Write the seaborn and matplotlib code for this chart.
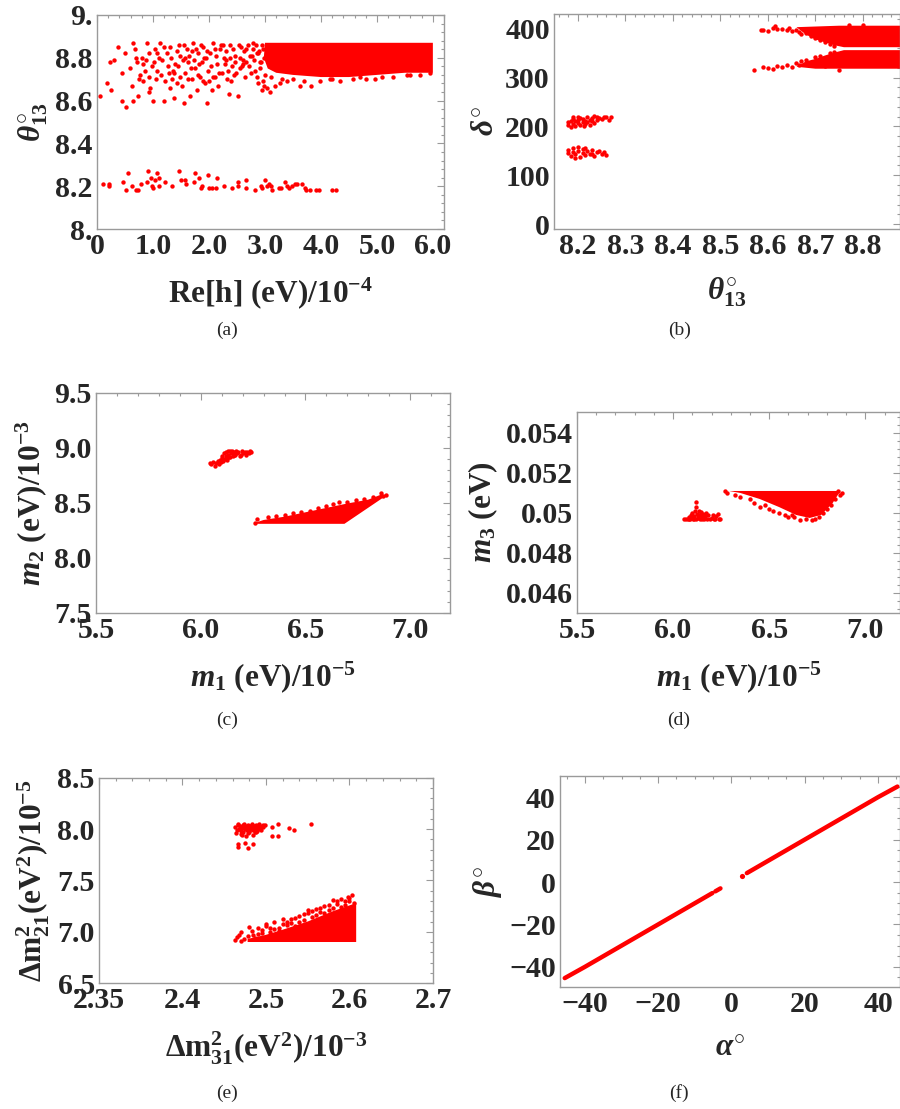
import matplotlib
matplotlib.use("Agg")
import matplotlib.pyplot as plt
from matplotlib.ticker import AutoMinorLocator, FixedLocator, FixedFormatter
import seaborn as sns

# ---------------- data ----------------
# (a) Re[h] vs theta13 : sparse points, low band, dense block outline
a_x = [0.06, 0.18, 0.24, 0.31, 0.37, 0.25, 0.45, 0.45, 0.52, 0.50, 0.59, 0.62, 0.64, 0.65, 0.68,
       0.71, 0.74, 0.77, 0.82, 0.83, 0.89, 0.92, 0.92, 0.98, 1.00, 1.04, 1.07, 1.13, 1.16, 1.19,
       1.22, 1.25, 1.28, 1.31, 1.34, 1.37, 1.40, 1.43, 1.46, 1.49, 1.52, 1.55, 1.57, 1.60, 1.63,
       1.66, 1.69, 1.72, 1.75, 1.78, 1.81, 1.84, 1.87, 1.90, 1.93, 1.96, 1.99, 2.02, 2.05, 2.08,
       2.11, 2.14, 2.17, 2.20, 2.23, 2.26, 2.32, 2.35, 2.38, 2.41, 2.44, 2.47, 2.51, 2.55, 2.57,
       2.61, 2.65, 2.67, 2.72, 2.76, 2.79, 2.82, 2.88, 2.91, 2.94, 2.97, 3.00,
       1.10, 1.45, 1.70, 2.30, 0.80, 1.05, 1.58, 1.95, 2.60, 2.85, 0.95, 1.35, 2.00, 2.25,
       0.70, 0.75, 0.85, 0.87, 0.93, 1.02, 1.08, 1.15, 1.20, 1.27, 1.30, 1.33, 1.38, 1.42, 1.48,
       1.53, 1.56, 1.62, 1.65, 1.68, 1.73, 1.77, 1.80, 1.83, 1.86, 1.89, 1.92, 1.97, 2.03, 2.07,
       2.10, 2.13, 2.18, 2.22, 2.28, 2.31, 2.34, 2.37, 2.40, 2.43, 2.46, 2.49, 2.53, 2.56, 2.59,
       2.63, 2.66, 2.70, 2.73, 2.75, 2.78, 2.81, 2.84, 2.86, 2.89, 2.92, 2.95, 2.98, 2.96, 2.99,
       2.93, 2.87,
       3.03, 3.09, 3.18, 3.27, 3.39, 3.51, 3.62, 3.83, 3.98, 4.16, 4.34, 4.57, 4.81, 4.96,
       5.29, 5.53, 5.77, 3.10, 3.30, 3.70, 4.20, 4.70, 5.10, 5.60, 5.95]
a_y = [8.62, 8.68, 8.78, 8.79, 8.85, 8.65, 8.60, 8.73, 8.57, 8.82, 8.75, 8.67, 8.60, 8.87, 8.84,
       8.78, 8.62, 8.72, 8.77, 8.69, 8.87, 8.82, 8.64, 8.76, 8.60, 8.84, 8.74, 8.87, 8.79, 8.60,
       8.69, 8.82, 8.73, 8.85, 8.70, 8.61, 8.77, 8.68, 8.86, 8.81, 8.67, 8.59, 8.73, 8.84, 8.78,
       8.62, 8.70, 8.87, 8.75, 8.65, 8.82, 8.71, 8.78, 8.85, 8.68, 8.59, 8.74, 8.82, 8.65, 8.87,
       8.71, 8.77, 8.67, 8.84, 8.73, 8.80, 8.70, 8.63, 8.86, 8.76, 8.72, 8.81, 8.62, 8.75, 8.85,
       8.79, 8.71, 8.84, 8.76, 8.81, 8.87, 8.74, 8.68, 8.78, 8.65, 8.84, 8.72,
       8.80, 8.76, 8.83, 8.79, 8.80, 8.70, 8.80, 8.80, 8.77, 8.82, 8.66, 8.74, 8.69, 8.86,
       8.80, 8.70, 8.74, 8.79, 8.71, 8.78, 8.82, 8.72, 8.85, 8.76, 8.66, 8.80, 8.73, 8.83, 8.71,
       8.79, 8.86, 8.70, 8.81, 8.75, 8.79, 8.84, 8.72, 8.77, 8.86, 8.69, 8.80, 8.83, 8.76, 8.71,
       8.84, 8.81, 8.73, 8.86, 8.77, 8.83, 8.74, 8.80, 8.69, 8.84, 8.78, 8.73, 8.86, 8.80, 8.76,
       8.83, 8.78, 8.86, 8.81, 8.73, 8.84, 8.79, 8.86, 8.71, 8.83, 8.75, 8.86, 8.80, 8.69, 8.67,
       8.78, 8.82,
       8.66, 8.64, 8.67, 8.68, 8.69, 8.70, 8.67, 8.67, 8.69, 8.70, 8.69, 8.70, 8.70, 8.70,
       8.71, 8.72, 8.72, 8.71, 8.70, 8.69, 8.70, 8.71, 8.71, 8.72, 8.73]
a_low_x = [0.10, 0.21, 0.21, 0.47, 0.52, 0.56, 0.63, 0.70, 0.74, 0.79, 0.89, 0.91, 0.96, 0.98,
           1.00, 1.04, 1.07, 1.10, 1.11, 1.21, 1.34, 1.46, 1.50, 1.57, 1.59, 1.75, 1.73, 1.82,
           1.86, 1.88, 1.98, 2.00, 2.06, 2.12, 2.15, 2.27, 2.42, 2.51, 2.52, 2.66, 2.67, 2.82,
           2.93, 3.00, 2.95, 3.04, 3.07, 3.11, 3.12, 3.26, 3.29, 3.36, 3.40, 3.43, 3.49, 3.53,
           3.57, 3.67, 3.72, 3.74, 3.80, 3.91, 3.96, 4.20, 4.27]
a_low_y = [8.21, 8.21, 8.20, 8.22, 8.18, 8.26, 8.20, 8.18, 8.18, 8.21, 8.22, 8.27, 8.24, 8.20,
           8.19, 8.23, 8.26, 8.20, 8.24, 8.22, 8.20, 8.27, 8.23, 8.23, 8.21, 8.26, 8.22, 8.24,
           8.19, 8.20, 8.25, 8.19, 8.19, 8.19, 8.24, 8.20, 8.19, 8.22, 8.20, 8.23, 8.19, 8.18,
           8.20, 8.23, 8.19, 8.20, 8.21, 8.20, 8.18, 8.19, 8.19, 8.22, 8.20, 8.19, 8.20, 8.21,
           8.21, 8.21, 8.19, 8.18, 8.18, 8.18, 8.18, 8.18, 8.18]
a_core_x = [3.00, 6.00, 6.00, 5.50, 5.00, 4.50, 4.00, 3.50, 3.20, 3.05, 2.98]
a_core_y = [8.87, 8.87, 8.73, 8.73, 8.72, 8.71, 8.71, 8.72, 8.73, 8.75, 8.80]

# (b) theta13 vs delta
b_x = [8.18, 8.18, 8.185, 8.19, 8.19, 8.195, 8.195, 8.20, 8.20, 8.205, 8.205, 8.21, 8.21, 8.215,
       8.215, 8.22, 8.22, 8.225, 8.225, 8.23, 8.23, 8.235, 8.24, 8.24, 8.245, 8.25, 8.255, 8.26,
       8.265, 8.27, 8.235, 8.20, 8.19, 8.212, 8.185,
       8.18, 8.18, 8.185, 8.19, 8.19, 8.195, 8.20, 8.20, 8.205, 8.21, 8.21, 8.215, 8.22, 8.225,
       8.23, 8.235, 8.24, 8.245, 8.25, 8.255, 8.26, 8.195, 8.215, 8.23,
       8.585, 8.59, 8.60, 8.61, 8.615, 8.62, 8.63, 8.64, 8.645, 8.65, 8.66, 8.665, 8.67, 8.675,
       8.68, 8.69, 8.70, 8.71, 8.72, 8.73, 8.74, 8.80, 8.77,
       8.57, 8.59, 8.60, 8.61, 8.62, 8.63, 8.64, 8.65, 8.66, 8.665, 8.67, 8.68, 8.69, 8.70,
       8.71, 8.72, 8.73, 8.74, 8.75]
b_y = [202, 208, 212, 205, 215, 200, 210, 206, 213, 218, 203, 209, 215, 205,
       212, 219, 208, 214, 203, 210, 217, 206, 220, 213, 218, 216, 220, 219,
       214, 220, 221, 220, 219, 201, 198,
       145, 152, 140, 148, 155, 143, 150, 157, 138, 146, 153, 141, 149, 144,
       152, 139, 147, 150, 144, 147, 141, 136, 156, 143,
       397, 398, 396, 402, 405, 399, 400, 397, 401, 395, 398, 393, 388, 399,
       392, 385, 381, 376, 372, 368, 365, 408, 407,
       316, 322, 319, 317, 324, 322, 326, 322, 330, 325, 333, 336, 329, 341,
       345, 323, 350, 353, 316]
b_top_x = [8.66, 8.75, 8.878, 8.878, 8.76, 8.74, 8.72, 8.70, 8.68]
b_top_y = [403, 406, 406, 362, 362, 366, 372, 378, 388]
b_bot_x = [8.68, 8.70, 8.72, 8.74, 8.76, 8.878, 8.878, 8.70, 8.66]
b_bot_y = [333, 338, 345, 351, 356, 356, 318, 318, 322]

# (c) m1 vs m2
c_x = [6.045, 6.05, 6.06, 6.07, 6.075, 6.08, 6.085, 6.09, 6.095, 6.10, 6.10, 6.105, 6.11, 6.115,
       6.12, 6.12, 6.125, 6.13, 6.13, 6.135, 6.14, 6.145, 6.15, 6.155, 6.16, 6.165, 6.17, 6.175,
       6.18, 6.19, 6.195, 6.20, 6.21, 6.215, 6.22, 6.23, 6.24, 6.235, 6.14, 6.16, 6.185, 6.125,
       6.26, 6.27, 6.32, 6.36, 6.40, 6.44, 6.48, 6.52, 6.56, 6.60, 6.63, 6.66, 6.70, 6.74, 6.78,
       6.82, 6.86, 6.87, 6.885]
c_y = [8.86, 8.85, 8.87, 8.84, 8.86, 8.88, 8.85, 8.89, 8.87, 8.91, 8.93, 8.88, 8.95, 8.90,
       8.93, 8.96, 8.91, 8.97, 8.94, 8.92, 8.975, 8.95, 8.97, 8.93, 8.96, 8.94, 8.97, 8.95,
       8.96, 8.94, 8.97, 8.95, 8.96, 8.94, 8.965, 8.95, 8.96, 8.97, 8.92, 8.935, 8.925, 8.89,
       8.32, 8.35, 8.37, 8.385, 8.39, 8.41, 8.42, 8.43, 8.45, 8.47, 8.49, 8.51, 8.51, 8.53, 8.54,
       8.55, 8.59, 8.56, 8.57]
c_core_x = [6.27, 6.686, 6.884, 6.86, 6.80, 6.70, 6.60, 6.50, 6.40, 6.30, 6.26]
c_core_y = [8.31, 8.31, 8.565, 8.575, 8.53, 8.495, 8.455, 8.415, 8.375, 8.345, 8.32]

# (d) m1 vs m3
d_x = [6.055, 6.065, 6.075, 6.08, 6.085, 6.09, 6.095, 6.10, 6.10, 6.105, 6.11, 6.115, 6.12, 6.12,
       6.12, 6.125, 6.13, 6.135, 6.14, 6.14, 6.145, 6.15, 6.155, 6.16, 6.165, 6.17, 6.175, 6.18,
       6.19, 6.20, 6.205, 6.22, 6.225, 6.24, 6.245, 6.235, 6.21, 6.13, 6.11, 6.15,
       6.27, 6.28, 6.32, 6.35, 6.40, 6.42, 6.45, 6.48, 6.52, 6.55, 6.58, 6.60, 6.63, 6.66, 6.69,
       6.72, 6.74, 6.76, 6.78, 6.80, 6.82, 6.84, 6.87, 6.88, 6.86, 6.50, 6.62]
d_y = [0.04968, 0.04968, 0.04972, 0.04968, 0.04980, 0.04968, 0.04990, 0.04975, 0.05000, 0.04968,
       0.04985, 0.05010, 0.04968, 0.05055, 0.05030, 0.04995, 0.04975, 0.05010, 0.04968, 0.04990,
       0.05003, 0.04978, 0.04995, 0.04968, 0.04985, 0.05000, 0.04970, 0.04990, 0.04968, 0.04975,
       0.04990, 0.04968, 0.04985, 0.04972, 0.04968, 0.04995, 0.04968, 0.04990, 0.04968, 0.04968,
       0.0511, 0.0510, 0.0509, 0.0508, 0.0507, 0.0505, 0.0503, 0.0504, 0.0501, 0.0500, 0.0499,
       0.0498, 0.0498, 0.04965, 0.0497, 0.04965, 0.0497, 0.0498, 0.0500, 0.0502, 0.0504, 0.0507,
       0.0509, 0.0510, 0.0511, 0.0502, 0.0499]
d_core_x = [6.29, 6.87, 6.83, 6.77, 6.71, 6.64, 6.55, 6.45, 6.35]
d_core_y = [0.0511, 0.0511, 0.0505, 0.0499, 0.04975, 0.0499, 0.0503, 0.0507, 0.0510]

# (e) dm31 vs dm21
e_x = [2.463, 2.465, 2.466, 2.468, 2.469, 2.470, 2.471, 2.472, 2.473, 2.474, 2.475, 2.476, 2.477,
       2.478, 2.479, 2.480, 2.481, 2.482, 2.483, 2.484, 2.485, 2.486, 2.487, 2.488, 2.489, 2.490,
       2.491, 2.492, 2.493, 2.494, 2.495, 2.497, 2.499, 2.464, 2.467, 2.470, 2.474, 2.478, 2.483,
       2.487, 2.492, 2.496,
       2.507, 2.514, 2.507, 2.514, 2.528, 2.533, 2.554, 2.467, 2.466, 2.475, 2.479, 2.485, 2.471,
       2.476, 2.484, 2.488, 2.480,
       2.463, 2.465, 2.468, 2.470, 2.474, 2.478, 2.480, 2.483, 2.487, 2.490, 2.495, 2.500, 2.505,
       2.510, 2.515, 2.520, 2.525, 2.530, 2.535, 2.540, 2.545, 2.550, 2.555, 2.560, 2.565, 2.570,
       2.575, 2.580, 2.585, 2.590, 2.595, 2.600, 2.603, 2.605,
       2.470, 2.490, 2.500, 2.510, 2.520, 2.530, 2.540, 2.545, 2.550, 2.560, 2.565, 2.570, 2.575,
       2.580, 2.585, 2.590, 2.595, 2.600, 2.598, 2.555, 2.535, 2.525, 2.515, 2.505, 2.495, 2.485]
e_y = [8.02, 7.99, 8.04, 8.00, 8.03, 7.98, 8.01, 8.04, 7.97, 8.02, 8.00, 8.03, 7.99, 8.04, 8.01,
       7.98, 8.03, 8.00, 8.04, 8.02, 7.99, 8.03, 8.01, 8.04, 7.98, 8.02, 8.00, 8.03, 8.01, 7.99,
       8.03, 8.02, 8.04, 7.96, 8.05, 7.95, 8.05, 7.96, 8.05, 7.97, 8.05, 8.04,
       8.02, 8.05, 7.93, 7.93, 8.01, 7.99, 8.05, 7.86, 7.83, 7.87, 7.82, 7.86, 7.94, 7.93, 7.94,
       7.97, 7.97,
       6.92, 6.95, 6.97, 6.91, 6.93, 6.96, 7.05, 7.01, 6.94, 6.98, 7.02, 7.06, 7.00, 7.10, 7.04,
       7.12, 7.07, 7.09, 7.13, 7.15, 7.11, 7.18, 7.14, 7.22, 7.19, 7.25, 7.21, 7.31, 7.27, 7.24,
       7.30, 7.33, 7.36, 7.28,
       7.00, 7.04, 7.08, 7.03, 7.08, 7.12, 7.10, 7.17, 7.21, 7.16, 7.23, 7.18, 7.26, 7.23, 7.30,
       7.32, 7.26, 7.30, 7.34, 7.20, 7.06, 7.10, 7.01, 7.04, 6.99, 6.97]
e_core_x = [2.478, 2.608, 2.608, 2.58, 2.55, 2.52, 2.50, 2.478]
e_core_y = [6.90, 6.90, 7.28, 7.20, 7.10, 7.02, 6.97, 6.93]

# (f) alpha vs beta
f_neg_alpha = [-45.5, -40, -30, -20, -10, -5.2]
f_neg_beta = [-45.3, -40, -30, -20, -10, -5.2]
f_mid_alpha = [-4.4, -3.0]
f_mid_beta = [-4.4, -3.0]
f_dot_alpha = [2.8]
f_dot_beta = [2.8]
f_pos_alpha = [4.2, 10, 20, 30, 40, 45.3]
f_pos_beta = [4.2, 10, 20, 30, 40, 45.0]

# ---------------- style ----------------
sns.set_theme(style="white")
plt.rcParams["font.family"] = ["Liberation Serif", "DejaVu Serif"]
plt.rcParams["font.weight"] = "bold"
plt.rcParams["mathtext.fontset"] = "custom"
plt.rcParams["mathtext.rm"] = "Liberation Serif:bold"
plt.rcParams["mathtext.bf"] = "Liberation Serif:bold"
plt.rcParams["mathtext.it"] = "Liberation Serif:bold:italic"
plt.rcParams["mathtext.default"] = "it"

RED = "#ff0000"
GRAY = "#9a9a9a"
TICK_FS = 21.5
LAB_FS = 22.5

fig = plt.figure(figsize=(9, 11.09), dpi=100)
ax_a = fig.add_axes([0.1078, 0.7935, 0.3856, 0.1930])
ax_b = fig.add_axes([0.6156, 0.7935, 0.3844, 0.1939])
ax_c = fig.add_axes([0.1067, 0.4473, 0.3933, 0.1984])
ax_d = fig.add_axes([0.6411, 0.4473, 0.3589, 0.1812])
ax_e = fig.add_axes([0.1100, 0.1136, 0.3711, 0.1849])
ax_f = fig.add_axes([0.6222, 0.1100, 0.3778, 0.1903])


def style(ax, xt, xl, yt, yl, xlim, ylim, xlabel, ylabel, xminor=5, yminor=5):
    ax.set_xlim(*xlim)
    ax.set_ylim(*ylim)
    ax.xaxis.set_major_locator(FixedLocator(xt))
    ax.xaxis.set_major_formatter(FixedFormatter(xl))
    ax.yaxis.set_major_locator(FixedLocator(yt))
    ax.yaxis.set_major_formatter(FixedFormatter(yl))
    ax.xaxis.set_minor_locator(AutoMinorLocator(xminor))
    ax.yaxis.set_minor_locator(AutoMinorLocator(yminor))
    for s in ax.spines.values():
        s.set_color(GRAY)
        s.set_linewidth(1.0)
    ax.tick_params(which="both", direction="in", color=GRAY, top=True, right=True,
                   width=0.8, labelsize=TICK_FS, pad=3)
    ax.tick_params(which="major", length=5)
    ax.tick_params(which="minor", length=2.5)
    for lab in ax.get_xticklabels() + ax.get_yticklabels():
        lab.set_fontweight("bold")
    ax.set_xlabel(xlabel, fontsize=LAB_FS, fontweight="bold", labelpad=11)
    ax.set_ylabel(ylabel, fontsize=LAB_FS, fontweight="bold", labelpad=4)


def dots(ax, x, y, s=10):
    sns.scatterplot(x=x, y=y, ax=ax, color=RED, s=s, linewidth=0, legend=False)


# (a)
ax_a.fill(a_core_x, a_core_y, color=RED, lw=0)
dots(ax_a, a_x, a_y)
dots(ax_a, a_low_x, a_low_y)
style(ax_a, [0, 1, 2, 3, 4, 5, 6], ["0", "1.0", "2.0", "3.0", "4.0", "5.0", "6.0"],
      [8.0, 8.2, 8.4, 8.6, 8.8, 9.0], ["8.", "8.2", "8.4", "8.6", "8.8", "9."],
      (0, 6.2), (8.0, 9.0), r"Re[h] (eV)/$\mathrm{10^{-4}}$", r"$\theta^{\circ}_{\mathrm{13}}$")

# (b)
ax_b.fill(b_top_x, b_top_y, color=RED, lw=0)
ax_b.fill(b_bot_x, b_bot_y, color=RED, lw=0)
dots(ax_b, b_x, b_y)
style(ax_b, [8.2, 8.3, 8.4, 8.5, 8.6, 8.7, 8.8], ["8.2", "8.3", "8.4", "8.5", "8.6", "8.7", "8.8"],
      [0, 100, 200, 300, 400], ["0", "100", "200", "300", "400"],
      (8.15, 8.878), (-10, 430), r"$\theta^{\circ}_{\mathrm{13}}$", r"$\delta^{\circ}$")

# (c)
ax_c.fill(c_core_x, c_core_y, color=RED, lw=0)
dots(ax_c, c_x, c_y)
style(ax_c, [5.5, 6.0, 6.5, 7.0], ["5.5", "6.0", "6.5", "7.0"],
      [7.5, 8.0, 8.5, 9.0, 9.5], ["7.5", "8.0", "8.5", "9.0", "9.5"],
      (5.5, 7.19), (7.5, 9.5), r"$m_{\mathrm{1}}$ (eV)/$\mathrm{10^{-5}}$",
      r"$m_{\mathrm{2}}$ (eV)/$\mathrm{10^{-3}}$")

# (d)
ax_d.fill(d_core_x, d_core_y, color=RED, lw=0)
dots(ax_d, d_x, d_y)
style(ax_d, [5.5, 6.0, 6.5, 7.0], ["5.5", "6.0", "6.5", "7.0"],
      [0.046, 0.048, 0.050, 0.052, 0.054], ["0.046", "0.048", "0.05", "0.052", "0.054"],
      (5.5, 7.18), (0.045, 0.05505), r"$m_{\mathrm{1}}$ (eV)/$\mathrm{10^{-5}}$",
      r"$m_{\mathrm{3}}$ (eV)")

# (e)
ax_e.fill(e_core_x, e_core_y, color=RED, lw=0)
dots(ax_e, e_x, e_y)
style(ax_e, [2.3, 2.4, 2.5, 2.6, 2.7], ["2.35", "2.4", "2.5", "2.6", "2.7"],
      [6.5, 7.0, 7.5, 8.0, 8.5], ["6.5", "7.0", "7.5", "8.0", "8.5"],
      (2.3, 2.7), (6.5, 8.5), r"$\mathrm{\Delta m^2_{31}(eV^2)/10^{-3}}$",
      r"$\mathrm{\Delta m^2_{21}(eV^2)/10^{-5}}$")

# (f)
for xa, yb in [(f_neg_alpha, f_neg_beta), (f_mid_alpha, f_mid_beta), (f_pos_alpha, f_pos_beta)]:
    sns.lineplot(x=xa, y=yb, ax=ax_f, color=RED, lw=3.2, sort=True, legend=False)
dots(ax_f, f_dot_alpha, f_dot_beta, s=14)
style(ax_f, [-40, -20, 0, 20, 40], ["\u221240", "\u221220", "0", "20", "40"],
      [-40, -20, 0, 20, 40], ["\u221240", "\u221220", "0", "20", "40"],
      (-46.8, 46.0), (-49.5, 50.0), r"$\alpha^{\circ}$", r"$\beta^{\circ}$", xminor=4, yminor=4)

# panel captions
for lab, cx, cy in [("(a)", 227, 330), ("(b)", 680, 330), ("(c)", 227, 720),
                    ("(d)", 679, 720), ("(e)", 227, 1093), ("(f)", 679, 1093)]:
    fig.text(cx / 900, 1 - cy / 1109, lab, ha="center", va="center", fontsize=14,
             fontweight="normal", family="Liberation Serif")

fig.savefig("out.png", dpi=100)
